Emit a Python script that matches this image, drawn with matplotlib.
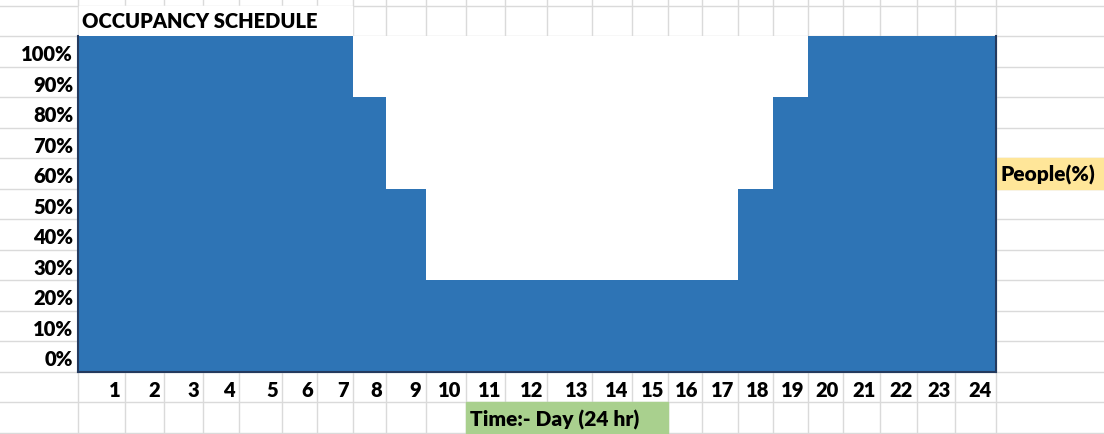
import numpy as np
import matplotlib
matplotlib.use("Agg")
import matplotlib.pyplot as plt
import matplotlib.transforms as mtransforms
from matplotlib.patches import Rectangle

# hourly occupancy (% of people present)
hours = [1, 2, 3, 4, 5, 6, 7, 8, 9, 10, 11, 12,
         13, 14, 15, 16, 17, 18, 19, 20, 21, 22, 23, 24]
occupancy = [100, 100, 100, 100, 100, 100, 100, 80, 50, 20, 20, 20,
             20, 20, 20, 20, 20, 50, 80, 100, 100, 100, 100, 100]
pct_ticks = [0, 10, 20, 30, 40, 50, 60, 70, 80, 90, 100]
title = "OCCUPANCY SCHEDULE"
xlabel = "Time:- Day (24 hr)"
ylabel = "People(%)"

# sheet layout in pixels: column edges and row height
col_px = [78, 124.5, 164, 203, 238.5, 282, 317, 352.5, 386, 425.5, 465.5, 505,
          547, 592, 632, 668, 702, 738, 773, 808, 843, 880, 917, 955, 996]
row_top, row_h, n_rows = 5.5, 30.5, 14
W, H = 1104, 434

blue = "#2e74b5"
grid = "#dadada"
plt.rcParams["font.family"] = ["Lato", "DejaVu Sans"]
plt.rcParams["font.weight"] = "heavy"
fs = 14.5

fig = plt.figure(figsize=(W / 100, H / 100), dpi=100)

# background sheet with cell gridlines, pixel coordinates
bg = fig.add_axes([0, 0, 1, 1])
bg.set_xlim(0, W)
bg.set_ylim(H, 0)
bg.axis("off")
row_y = [row_top + row_h * k for k in range(n_rows + 1)]
for y in row_y:
    bg.plot([0, W], [y, y], color=grid, lw=1, zorder=1)
for x in col_px:
    bg.plot([x, x], [0, H], color=grid, lw=1, zorder=1)
# merged title cell
bg.add_patch(Rectangle((col_px[0] + 0.5, row_y[0] + 0.6), col_px[7] - col_px[0] - 1,
                       row_y[1] - row_y[0] - 0.6, color="white", zorder=2))
bg.text(col_px[0] + 4, (row_y[0] + row_y[1]) / 2 + 1, title, fontsize=fs,
        ha="left", va="center", zorder=3)
# axis caption cells
bg.add_patch(Rectangle((col_px[10], row_y[13]), col_px[15] - col_px[10],
                       H - row_y[13], color="#a9d08e", zorder=2))
bg.text(col_px[10] + 4, (row_y[13] + row_y[14]) / 2 + 3, xlabel, fontsize=fs + 0.5,
        ha="left", va="center", zorder=3)
bg.add_patch(Rectangle((col_px[-1] + 0.5, row_y[5]), W - col_px[-1],
                       row_y[6] - row_y[5], color="#ffe699", zorder=2))
bg.text(col_px[-1] + 4, (row_y[5] + row_y[6]) / 2 + 2, ylabel, fontsize=fs + 0.5,
        ha="left", va="center", zorder=3)

# chart: x in hours (columns have uneven widths), y in percent rows
hour_edges = np.arange(25)
fwd = lambda h: np.interp(h, hour_edges, col_px)
inv = lambda p: np.interp(p, col_px, hour_edges)

left, right = col_px[0] / W, col_px[-1] / W
top, bottom = 1 - row_y[1] / H, 1 - row_y[12] / H
ax = fig.add_axes([left, bottom, right - left, top - bottom])
ax.set_xscale("function", functions=(fwd, inv))
ax.set_xlim(0, 24)
# each percent row is 10 units tall, centred on its label
ax.set_ylim(-5, 105)
ax.stairs(np.array(occupancy) + 5, hour_edges, baseline=-5, fill=True,
          color=blue, zorder=2)

ax.set_yticks(pct_ticks)
ax.set_yticklabels([f"{p}%" for p in pct_ticks])
ax.set_xticks(hours)
ax.set_xticklabels([str(h) for h in hours])
ax.tick_params(axis="both", length=0, labelsize=fs)
ax.tick_params(axis="y", pad=3.5)
ax.tick_params(axis="x", pad=7)
shift = mtransforms.ScaledTranslation(-4 / 100, 0, fig.dpi_scale_trans)
for lbl in ax.get_xticklabels():
    lbl.set_ha("right")
    lbl.set_transform(lbl.get_transform() + shift)
down = mtransforms.ScaledTranslation(0, -2 / 100, fig.dpi_scale_trans)
for lbl in ax.get_yticklabels():
    lbl.set_transform(lbl.get_transform() + down)

ax.spines["top"].set_visible(False)
for s in ["left", "right", "bottom"]:
    ax.spines[s].set_color("#243a5e")
    ax.spines[s].set_linewidth(1.5)

plt.savefig("out.png", dpi=100)
